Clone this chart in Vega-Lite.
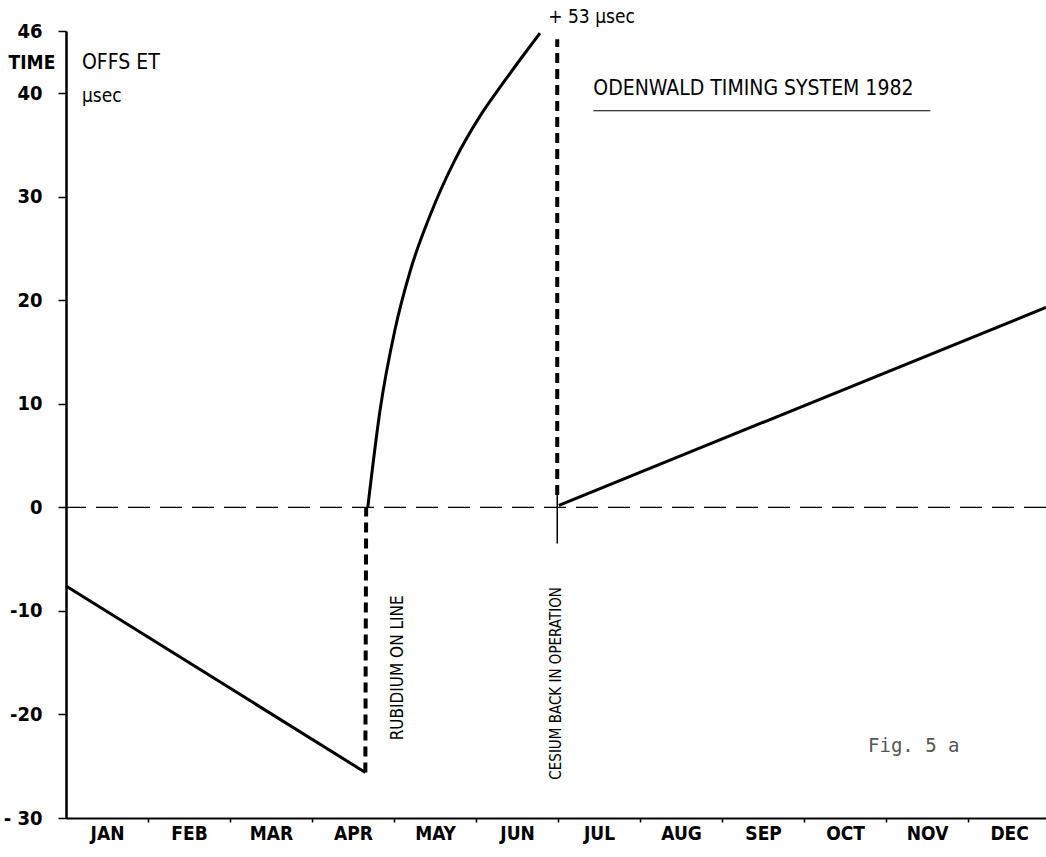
{
  "$schema": "https://vega.github.io/schema/vega-lite/v6.json",
  "width": 980,
  "height": 787,
  "autosize": {"type": "none"},
  "padding": {"left": 66, "top": 31, "right": 0, "bottom": 39},
  "background": "white",
  "config": {"view": {"stroke": null}, "font": "DejaVu Sans Condensed"},
  "datasets": {
    "lines": [
      {"seg": "drift1", "o": 1, "x": 0, "y": -7.6},
      {"seg": "drift1", "o": 2, "x": 3.65, "y": -25.6},
      {"seg": "rubidium", "o": 1, "x": 3.68, "y": 0},
      {"seg": "rubidium", "o": 2, "x": 3.83, "y": 9.4},
      {"seg": "rubidium", "o": 3, "x": 4.01, "y": 17.1},
      {"seg": "rubidium", "o": 4, "x": 4.2, "y": 22.9},
      {"seg": "rubidium", "o": 5, "x": 4.44, "y": 28.2},
      {"seg": "rubidium", "o": 6, "x": 4.74, "y": 33.5},
      {"seg": "rubidium", "o": 7, "x": 5.05, "y": 37.8},
      {"seg": "rubidium", "o": 8, "x": 5.35, "y": 41.2},
      {"seg": "rubidium", "o": 9, "x": 5.6, "y": 43.9},
      {"seg": "rubidium", "o": 10, "x": 5.78, "y": 45.8},
      {"seg": "cesium", "o": 1, "x": 6.01, "y": 0.2},
      {"seg": "cesium", "o": 2, "x": 11.95, "y": 19.3}
    ],
    "zero": [{"y": 0}],
    "jumps": [
      {"seg": "j1", "o": 1, "x": 3.65, "y": -25.6},
      {"seg": "j1", "o": 2, "x": 3.66, "y": 0},
      {"seg": "j2", "o": 1, "x": 5.99, "y": 1.2},
      {"seg": "j2", "o": 2, "x": 5.99, "y": 45.2}
    ],
    "stub": [
      {"seg": "s", "o": 1, "x": 5.99, "y": 1.2},
      {"seg": "s", "o": 2, "x": 5.99, "y": -3.5}
    ],
    "underline": [{"x": 6.43, "x2": 10.54, "y": 38.3}],
    "big": [
      {"t": "ODENWALD TIMING SYSTEM 1982", "x": 6.43, "y": 40.4},
      {"t": "OFFS ET", "x": 0.195, "y": 42.95}
    ],
    "small": [
      {"t": "μsec", "x": 0.195, "y": 39.7},
      {"t": "+ 53 μsec", "x": 5.88, "y": 47.4}
    ],
    "left": [{"t": "TIME", "x": -0.415, "y": 42.95}],
    "vert1": [{"t": "RUBIDIUM ON LINE", "x": 4.05, "y": -15.5}],
    "vert2": [{"t": "CESIUM BACK IN OPERATION", "x": 5.98, "y": -17.0}],
    "fig": [{"t": "Fig. 5 a", "x": 9.78, "y": -23.0}]
  },
  "layer": [
    {
      "data": {"name": "zero"},
      "mark": {"type": "rule", "color": "black", "strokeWidth": 1.2, "strokeDash": [22, 10]},
      "encoding": {"y": {"field": "y", "type": "quantitative"}}
    },
    {
      "data": {"name": "lines"},
      "mark": {"type": "line", "color": "black", "strokeWidth": 3, "interpolate": "monotone"},
      "encoding": {
        "x": {
          "field": "x", "type": "quantitative",
          "scale": {"domain": [0, 11.95], "nice": false, "zero": false},
          "axis": {
            "title": null, "grid": false,
            "values": [0.5, 1, 1.5, 2, 2.5, 3, 3.5, 4, 4.5, 5, 5.5, 6, 6.5, 7, 7.5, 8, 8.5, 9, 9.5, 10, 10.5, 11, 11.5],
            "labelExpr": "datum.value % 1 == 0 ? '' : ['JAN','FEB','MAR','APR','MAY','JUN','JUL','AUG','SEP','OCT','NOV','DEC'][floor(datum.value)]",
            "tickOpacity": {"condition": {"test": "datum.value % 1 != 0", "value": 0}, "value": 1},
            "labelOverlap": false, "labelBound": false, "labelFlush": false,
            "domainColor": "black", "domainWidth": 2, "tickColor": "black", "tickSize": 4, "tickWidth": 1.5,
            "labelFontSize": 19, "labelFontWeight": "bold", "labelColor": "black", "labelPadding": 2
          }
        },
        "y": {
          "field": "y", "type": "quantitative",
          "scale": {"domain": [-30, 46], "nice": false, "zero": false},
          "axis": {
            "title": null, "grid": false,
            "values": [-30, -20, -10, 0, 10, 20, 30, 40, 46],
            "labelExpr": "datum.value == -30 ? '- 30' : '' + datum.value",
            "labelOverlap": false, "labelBound": false, "labelFlush": false,
            "domainColor": "black", "domainWidth": 2.5, "tickColor": "black", "tickSize": 8, "tickWidth": 1.5,
            "labelFontSize": 20, "labelFontWeight": "bold", "labelColor": "black", "labelPadding": 16
          }
        },
        "detail": {"field": "seg"},
        "order": {"field": "o"}
      }
    },
    {
      "data": {"name": "jumps"},
      "mark": {"type": "line", "color": "black", "strokeWidth": 4, "strokeDash": [10, 6]},
      "encoding": {
        "x": {"field": "x", "type": "quantitative"},
        "y": {"field": "y", "type": "quantitative"},
        "detail": {"field": "seg"},
        "order": {"field": "o"}
      }
    },
    {
      "data": {"name": "stub"},
      "mark": {"type": "line", "color": "black", "strokeWidth": 1.5},
      "encoding": {
        "x": {"field": "x", "type": "quantitative"},
        "y": {"field": "y", "type": "quantitative"},
        "order": {"field": "o"}
      }
    },
    {
      "data": {"name": "underline"},
      "mark": {"type": "rule", "color": "black", "strokeWidth": 1.2},
      "encoding": {
        "x": {"field": "x", "type": "quantitative"},
        "x2": {"field": "x2"},
        "y": {"field": "y", "type": "quantitative"}
      }
    },
    {
      "data": {"name": "big"},
      "mark": {"type": "text", "align": "left", "baseline": "middle", "fontSize": 21, "color": "black"},
      "encoding": {
        "x": {"field": "x", "type": "quantitative"},
        "y": {"field": "y", "type": "quantitative"},
        "text": {"field": "t"}
      }
    },
    {
      "data": {"name": "small"},
      "mark": {"type": "text", "align": "left", "baseline": "middle", "fontSize": 19, "color": "black"},
      "encoding": {
        "x": {"field": "x", "type": "quantitative"},
        "y": {"field": "y", "type": "quantitative"},
        "text": {"field": "t"}
      }
    },
    {
      "data": {"name": "left"},
      "mark": {"type": "text", "align": "center", "baseline": "middle", "fontSize": 19, "fontWeight": "bold", "color": "black"},
      "encoding": {
        "x": {"field": "x", "type": "quantitative"},
        "y": {"field": "y", "type": "quantitative"},
        "text": {"field": "t"}
      }
    },
    {
      "data": {"name": "vert1"},
      "mark": {"type": "text", "align": "center", "baseline": "middle", "angle": 270, "fontSize": 17, "font": "DejaVu Sans Condensed", "color": "black"},
      "encoding": {
        "x": {"field": "x", "type": "quantitative"},
        "y": {"field": "y", "type": "quantitative"},
        "text": {"field": "t"}
      }
    },
    {
      "data": {"name": "vert2"},
      "mark": {"type": "text", "align": "center", "baseline": "middle", "angle": 270, "fontSize": 15, "font": "DejaVu Sans Condensed", "color": "black"},
      "encoding": {
        "x": {"field": "x", "type": "quantitative"},
        "y": {"field": "y", "type": "quantitative"},
        "text": {"field": "t"}
      }
    },
    {
      "data": {"name": "fig"},
      "mark": {"type": "text", "align": "left", "baseline": "middle", "fontSize": 19, "font": "DejaVu Sans Mono", "color": "#555555"},
      "encoding": {
        "x": {"field": "x", "type": "quantitative"},
        "y": {"field": "y", "type": "quantitative"},
        "text": {"field": "t"}
      }
    }
  ]
}
